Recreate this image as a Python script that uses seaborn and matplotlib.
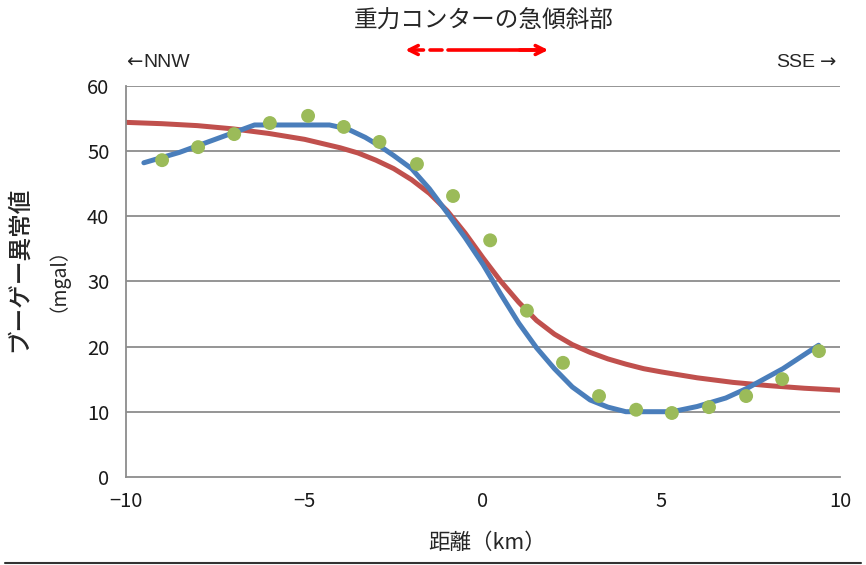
import matplotlib
matplotlib.use("Agg")
import matplotlib.pyplot as plt
import seaborn as sns
import pandas as pd

# Observed Bouguer anomaly (mgal) along the NNW-SSE profile
obs_km = [-8.99, -7.98, -6.97, -5.97, -4.90, -3.90, -2.90, -1.85, -0.84, 0.20,
          1.23, 2.24, 3.25, 4.29, 5.29, 6.33, 7.37, 8.38, 9.41]
obs_mgal = [48.6, 50.6, 52.6, 54.3, 55.4, 53.7, 51.4, 48.0, 43.1, 36.3,
            25.5, 17.5, 12.4, 10.3, 9.8, 10.7, 12.4, 15.0, 19.3]

# Model curve (blue)
blue_km = [-9.5, -8.5, -7.5, -6.4, -4.3, -3.8, -3.3, -2.9, -2.5, -2.0, -1.5, -1.0,
           -0.5, 0.0, 0.5, 1.0, 1.5, 2.0, 2.5, 3.0, 3.5, 4.0, 5.3, 6.0, 6.8, 7.4,
           8.4, 9.4]
blue_mgal = [48.2, 49.8, 51.8, 54.0, 54.0, 53.4, 52.1, 50.8, 49.3, 47.3, 44.2, 40.5,
             36.7, 32.6, 28.0, 23.6, 19.8, 16.6, 13.8, 11.8, 10.7, 10.0, 10.0, 10.8,
             12.1, 13.6, 16.6, 20.2]

# Model curve (red)
red_km = [-10, -9, -8, -7, -6, -5, -4, -3.5, -3, -2.5, -2, -1.5, -1, -0.5, 0, 0.5,
          1, 1.5, 2, 2.5, 3, 3.5, 4, 4.5, 5, 6, 7, 8, 9, 10]
red_mgal = [54.4, 54.2, 53.9, 53.4, 52.7, 51.8, 50.5, 49.7, 48.6, 47.3, 45.6, 43.5,
            40.8, 37.4, 33.6, 30.0, 26.8, 24.0, 21.9, 20.3, 19.1, 18.1, 17.3, 16.6,
            16.1, 15.2, 14.5, 14.0, 13.6, 13.3]

x_ticks = [-10, -5, 0, 5, 10]
x_ticklabels = ["\u221210", "\u22125", "0", "5", "10"]
y_ticks = [0, 10, 20, 30, 40, 50, 60]

sns.set_theme(style="white")
plt.rcParams["font.family"] = ["Noto Sans CJK JP", "DejaVu Sans"]

fig = plt.figure(figsize=(8.66, 5.65), dpi=100)
ax = fig.add_axes([0.1455, 0.156, 0.8245, 0.692])

grid_c = "#8c8c8c"
for yv in y_ticks[1:]:
    ax.axhline(yv, color=grid_c, lw=1.3, zorder=0)

red_df = pd.DataFrame({"km": red_km, "mgal": red_mgal})
blue_df = pd.DataFrame({"km": blue_km, "mgal": blue_mgal})
obs_df = pd.DataFrame({"km": obs_km, "mgal": obs_mgal})

sns.lineplot(data=red_df, x="km", y="mgal", ax=ax, color="#C0504D", lw=3.6, zorder=2)
sns.lineplot(data=blue_df, x="km", y="mgal", ax=ax, color="#4A7EBB", lw=3.6, zorder=3)
sns.scatterplot(data=obs_df, x="km", y="mgal", ax=ax, color="#9BBB59", s=100,
                edgecolor="none", zorder=4)

ax.set_xlim(-10, 10)
ax.set_ylim(0, 60)
ax.set_xticks(x_ticks)
ax.set_xticklabels(x_ticklabels)
ax.set_yticks(y_ticks)
ax.tick_params(axis="both", which="major", labelsize=14.5, colors=grid_c,
               labelcolor="#1a1a1a", length=5, width=1.2, direction="out")
ax.tick_params(axis="x", pad=5)
ax.tick_params(axis="y", pad=7)
for side in ["top", "right"]:
    ax.spines[side].set_visible(False)
for side in ["left", "bottom"]:
    ax.spines[side].set_color(grid_c)
    ax.spines[side].set_linewidth(1.3)

ax.set_xlabel("")
ax.set_ylabel("")

fig.text(0.563, 0.039, "距離（km）", ha="center", va="center", fontsize=15.5)
fig.text(0.022, 0.523, "ブーゲー異常値", ha="center", va="center", fontsize=17,
         rotation=90, fontweight="medium")
fig.text(0.055, 0.522, "（mgal）", ha="center", va="center", fontsize=14,
         rotation=90)

fig.text(0.558, 0.962, "重力コンターの急傾斜部", ha="center", va="center", fontsize=17)

# Direction labels
lat_font = ["Liberation Sans", "DejaVu Sans"]
fig.text(0.145, 0.889, "\u2190", ha="left", va="center", fontsize=14,
         family=["DejaVu Sans"])
fig.text(0.166, 0.889, "NNW", ha="left", va="center", fontsize=14, family=lat_font)
fig.text(0.941, 0.889, "SSE", ha="right", va="center", fontsize=14, family=lat_font)
fig.text(0.966, 0.889, "\u2192", ha="right", va="center", fontsize=14,
         family=["DejaVu Sans"])

# Arrow marking the steep gradient zone
ay = 0.9115
fig.add_artist(plt.Line2D([0.4965, 0.510], [ay, ay], color="red", lw=2.6))
fig.add_artist(plt.Line2D([0.517, 0.628], [ay, ay], color="red", lw=2.6))
ax.annotate("", xy=(0.468, ay), xytext=(0.489, ay), xycoords="figure fraction",
            arrowprops=dict(arrowstyle="->", color="red", lw=2.6,
                            mutation_scale=16, shrinkA=0, shrinkB=0))
ax.annotate("", xy=(0.633, ay), xytext=(0.600, ay), xycoords="figure fraction",
            arrowprops=dict(arrowstyle="->", color="red", lw=2.6,
                            mutation_scale=16, shrinkA=0, shrinkB=0))

fig.add_artist(plt.Line2D([0.006, 0.994], [0.004, 0.004], color="#333333", lw=1.5))

fig.savefig("out.png", dpi=100, facecolor="white")
